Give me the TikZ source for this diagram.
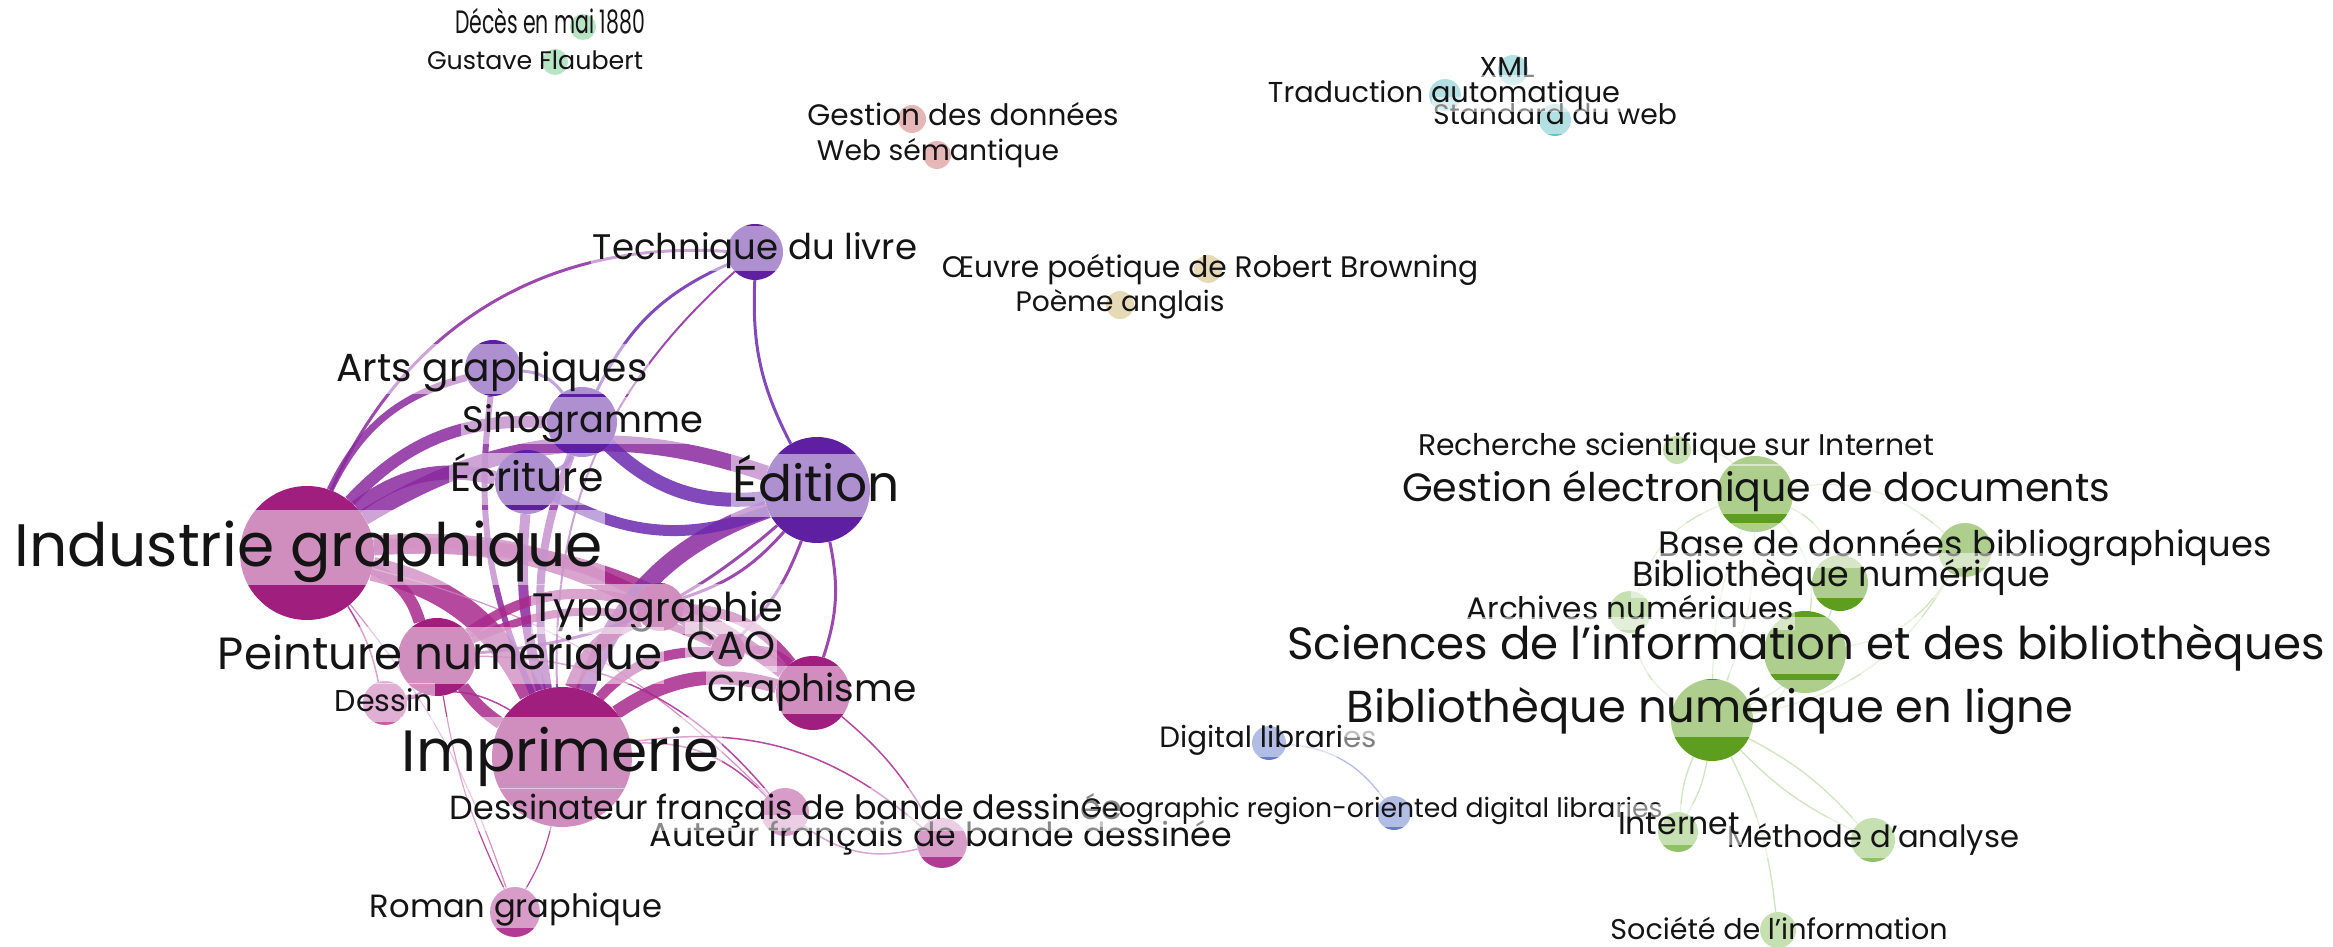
\documentclass[tikz,border=0pt]{standalone}
\usepackage{fontspec}
\setmainfont{Poppins}
\usepackage{graphicx}
\pgfdeclarelayer{bg}
\pgfdeclarelayer{edges}
\pgfsetlayers{bg,edges,main}
\definecolor{mag}{HTML}{A01E7E}
\definecolor{magS}{HTML}{B23A93}
\definecolor{magL}{HTML}{C65FAA}
\definecolor{vio}{HTML}{5E1FA0}
\definecolor{grn}{HTML}{5E9E1E}
\definecolor{grnL}{HTML}{8FC266}
\definecolor{mint}{HTML}{6FC98A}
\definecolor{rose}{HTML}{CC6F6F}
\definecolor{teal}{HTML}{66C2C8}
\definecolor{khaki}{HTML}{CDB46E}
\definecolor{blu}{HTML}{667CCB}
\definecolor{magE}{HTML}{A82A8C}
\definecolor{mixE}{HTML}{8A2A9E}
\definecolor{vioE}{HTML}{6B2AAE}
\definecolor{grnE}{HTML}{CFE4BF}
\definecolor{bluE}{HTML}{B3BEE8}
\tikzset{
  dot/.style={circle,inner sep=0pt,minimum size=#1,draw=none},
  lab/.style={fill=white,fill opacity=0.5,text opacity=1,inner sep=1.5pt,anchor=base,text=black!92},
  ed/.style={line width=#1,draw opacity=0.85,line cap=butt},
  ge/.style={line width=1.3pt,draw=grnE},
  bl/.style={bend left=#1},
  bl/.default=25
}
\newcommand\lbl[5]{\node[lab] (#1) at (#2,947-#3) {\resizebox{#4pt}{!}{\vphantom{Ég}#5}};}
\begin{document}
\begin{tikzpicture}[x=1pt,y=1pt]
\begin{pgfonlayer}{bg}
\fill[white] (0,0) rectangle (2333,947);
\end{pgfonlayer}
\useasboundingbox (0,0) rectangle (2333,947);
% ---- purple cluster nodes
\node[dot=134,fill=mag] (ig) at (307,947-553) {};
\node[dot=140,fill=mag] (imp) at (562,947-757) {};
\node[dot=106,fill=vio] (ed) at (817,947-490) {};
\node[dot=78,fill=mag] (pn) at (437,947-657) {};
\node[dot=48,fill=mag] (typ) at (660,947-607) {};
\node[dot=34,fill=mag] (cao) at (728,947-650) {};
\node[dot=74,fill=mag] (gr) at (813,947-693) {};
\node[dot=44,fill=magL] (des) at (385,947-703) {};
\node[dot=50,fill=magS] (rg) at (515,947-912) {};
\node[dot=48,fill=magS] (dfb) at (785,947-812) {};
\node[dot=50,fill=magS] (afb) at (942,947-843) {};
\node[dot=56,fill=vio] (ag) at (493,947-368) {};
\node[dot=70,fill=vio] (sin) at (582,947-422) {};
\node[dot=64,fill=vio] (ecr) at (527,947-482) {};
\node[dot=56,fill=vio] (tech) at (755,947-252) {};
% ---- small clusters
\node[dot=26,fill=mint] (deces) at (583,947-27) {};
\node[dot=26,fill=mint] (gf) at (555,947-62) {};
\node[dot=28,fill=rose] (gdd) at (912,947-119) {};
\node[dot=28,fill=rose] (ws) at (937,947-155) {};
\node[dot=30,fill=teal] (xml) at (1513,947-70) {};
\node[dot=32,fill=teal] (ta) at (1445,947-95) {};
\node[dot=32,fill=teal] (sw) at (1555,947-120) {};
\node[dot=28,fill=khaki] (oeu) at (1208,947-269) {};
\node[dot=28,fill=khaki] (pa) at (1120,947-305) {};
\node[dot=34,fill=blu] (dl) at (1269,947-743) {};
\node[dot=34,fill=blu] (geo) at (1394,947-813) {};
% ---- green cluster
\node[dot=28,fill=grnL] (rsi) at (1677,947-450) {};
\node[dot=76,fill=grn] (ged) at (1755,947-494) {};
\node[dot=54,fill=grn] (bdb) at (1965,947-550) {};
\node[dot=56,fill=grn] (bn) at (1840,947-583) {};
\node[dot=42,fill=grnL] (arch) at (1630,947-612) {};
\node[dot=82,fill=grn] (sci) at (1805,947-652) {};
\node[dot=82,fill=grn] (bnl) at (1712,947-720) {};
\node[dot=40,fill=grnL] (int) at (1678,947-832) {};
\node[dot=44,fill=grnL] (meth) at (1873,947-840) {};
\node[dot=36,fill=grnL] (soc) at (1778,947-930) {};
% ---- edges
\begin{pgfonlayer}{edges}
\draw[ed=24pt,magE] (ig) to[bl] (imp);
\draw[ed=20pt,magE] (ig) to[bl=15] (typ);
\draw[ed=14pt,magE] (ig) to[bl=20] (gr);
\draw[ed=10pt,magE] (ig) to[bl=20] (cao);
\draw[ed=12pt,magE] (ig) to[bl] (pn);
\draw[ed=16pt,mixE] (ig) to[bl] (ed);
\draw[ed=14pt,mixE] (ig) to[bl] (ecr);
\draw[ed=12pt,mixE] (ig) to[bl] (sin);
\draw[ed=7pt,mixE] (ig) to[bl] (ag);
\draw[ed=3pt,mixE] (ig) to[bl=35] (tech);
\draw[ed=1.5pt,magE] (ig) to[bl=10] (des);
\draw[ed=1.2pt,magE!60] (ig) to[bl=10] (rg);
\draw[ed=1.2pt,magE!60] (ig) to[bl=15] (dfb);
\draw[ed=18pt,mixE] (imp) to[bl] (ed);
\draw[ed=14pt,magE] (imp) to[bl] (gr);
\draw[ed=14pt,magE] (imp) to[bl] (typ);
\draw[ed=10pt,magE] (imp) to[bl] (cao);
\draw[ed=12pt,magE] (imp) to[bl=10] (pn);
\draw[ed=8pt,mixE] (imp) to[bl=15] (sin);
\draw[ed=10pt,mixE] (imp) to[bl=10] (ecr);
\draw[ed=6pt,mixE] (imp) to[bl=15] (ag);
\draw[ed=2pt,mixE] (imp) to[bl] (tech);
\draw[ed=1.5pt,magE] (imp) to[bl] (dfb);
\draw[ed=1.5pt,magE] (imp) to[bl] (afb);
\draw[ed=1.2pt,magE] (imp) to[bl=8] (rg);
\draw[ed=1.2pt,magE] (rg) to[bl=8] (pn);
\draw[ed=14pt,vioE] (ed) to[bl] (sin);
\draw[ed=11pt,vioE] (ed) to[bl] (ecr);
\draw[ed=3pt,vioE] (ed) to[bl=15] (tech);
\draw[ed=3pt,mixE] (ed) to[bl=15] (typ);
\draw[ed=3pt,mixE] (ed) to[bl=12] (cao);
\draw[ed=3pt,mixE] (ed) to[bl=18] (pn);
\draw[ed=3pt,mixE] (ed) to[bl=15] (gr);
\draw[ed=3pt,vioE] (sin) to[bl=20] (tech);
\draw[ed=3pt,vioE] (ag) to[bl] (sin);
\draw[ed=4pt,vioE] (sin) to[bl] (ecr);
\draw[ed=1.5pt,magE] (gr) to[bl=10] (afb);
\draw[ed=1.5pt,magE] (afb) to[bl] (dfb);
\draw[ed=1.5pt,magE] (pn) to[bl] (dfb);
\draw[ed=4pt,magE] (pn) to[bl] (des);
\draw[ed=1.5pt,magE] (des) to[bl] (imp);
\draw[ed=10pt,magE] (typ) to[bl] (gr);
\draw[ed=8pt,magE] (cao) to[bl] (gr);
\draw[ed=10pt,magE] (pn) to[bl] (typ);
\draw[ed=8pt,magE] (pn) to[bl] (cao);
% green
\draw[ge] (ged) to[bl=10] (bnl);
\draw[ge] (bnl) to[bl=10] (ged);
\draw[ge] (ged) to[bl] (sci);
\draw[ge] (ged) to[bl] (bn);
\draw[ge] (ged) to[bl] (bdb);
\draw[ge] (rsi) to[bl] (ged);
\draw[ge] (arch) to[bl] (ged);
\draw[ge] (arch) to[bl=-25] (bnl);
\draw[ge] (sci) to[bl] (bnl);
\draw[ge] (bdb) to[bl] (bnl);
\draw[ge] (bn) to[bl] (bnl);
\draw[ge] (bdb) to[bl] (sci);
\draw[ge] (bnl) to[bl=10] (int);
\draw[ge] (int) to[bl=10] (bnl);
\draw[ge] (bnl) to[bl=10] (meth);
\draw[ge] (meth) to[bl=10] (bnl);
\draw[ge] (bnl) to[bl=10] (soc);
% blue
\draw[line width=1.3pt,draw=bluE] (dl) to[bl] (geo);
\end{pgfonlayer}
% ---- labels
\node[lab] (deces-l) at (550,947-34) {\resizebox{190pt}{30pt}{\vphantom{Ég}Décès en mai 1880}};
\lbl{gf-l}{535}{70}{216}{Gustave Flaubert}
\lbl{gdd-l}{963}{126}{311}{Gestion des données}
\lbl{ws-l}{938}{161}{242}{Web sémantique}
\lbl{xml-l}{1507}{78}{55}{XML}
\lbl{sw-l}{1555}{125}{244}{Standard du web}
\lbl{ta-l}{1444}{103}{352}{Traduction automatique}
\lbl{oeu-l}{1210}{278}{536}{Œuvre poétique de Robert Browning}
\lbl{pa-l}{1120}{312}{209}{Poème anglais}
\lbl{tech-l}{755}{260}{324}{Technique du livre}
\lbl{ag-l}{492}{382}{311}{Arts graphiques}
\lbl{sin-l}{583}{433}{240}{Sinogramme}
\lbl{ecr-l}{527}{492}{153}{Écriture}
\lbl{ed-l}{816}{502}{167}{Édition}
\lbl{ig-l}{309}{567}{588}{Industrie graphique}
\lbl{typ-l}{658}{622}{251}{Typographie}
\lbl{pn-l}{440}{670}{444}{Peinture numérique}
\lbl{cao-l}{731}{660}{88}{CAO}
\lbl{gr-l}{812}{702}{209}{Graphisme}
\lbl{des-l}{384}{712}{98}{Dessin}
\lbl{imp-l}{561}{772}{318}{Imprimerie}
\lbl{afb-l}{941}{847}{582}{Auteur français de bande dessinée}
\lbl{dfb-l}{786}{820}{672}{Dessinateur français de bande dessinée}
\lbl{rg-l}{516}{918}{292}{Roman graphique}
\lbl{dl-l}{1268}{748}{217}{Digital librari\textcolor{gray}{es}}
\lbl{geo-l}{1372}{818}{581}{Geographic region-oriented digital libraries}
\lbl{rsi-l}{1676}{456}{516}{Recherche scientifique sur Internet}
\lbl{ged-l}{1756}{502}{708}{Gestion électronique de documents}
\lbl{bdb-l}{1965}{557}{613}{Base de données bibliographiques}
\lbl{bn-l}{1841}{587}{418}{Bibliothèque numérique}
\lbl{arch-l}{1630}{620}{327}{Archives numériques}
\lbl{sci-l}{1806}{660}{1037}{Sciences de l'information et des bibliothèques}
\lbl{bnl-l}{1710}{723}{726}{Bibliothèque numérique en ligne}
\lbl{meth-l}{1873}{848}{292}{Méthode d'analyse}
\lbl{int-l}{1679}{835}{122}{Internet}
\lbl{soc-l}{1779}{940}{337}{Société de l'information}
\end{tikzpicture}
\end{document}
